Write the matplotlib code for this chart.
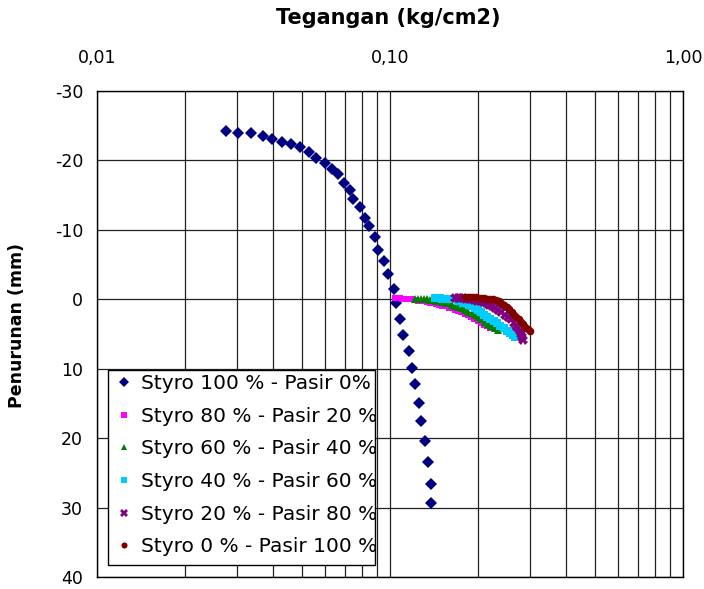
import numpy as np
import matplotlib
matplotlib.use('Agg')
import matplotlib.pyplot as plt
from matplotlib.patches import Rectangle
from matplotlib.transforms import Bbox, TransformedBbox
from matplotlib.ticker import FixedLocator, FixedFormatter, NullFormatter

plt.rcParams['font.family'] = ['DejaVu Sans']
plt.rcParams['axes.unicode_minus'] = False

# Styro 100 % - Pasir 0%
s100_x = [0.0275, 0.0304, 0.0335, 0.0368, 0.0397, 0.0427, 0.0459, 0.0494, 0.0530, 0.0559,
          0.0600, 0.0632, 0.0663, 0.0697, 0.0732, 0.0749, 0.0788, 0.0824, 0.0848, 0.0887,
          0.0912, 0.0954, 0.0984, 0.1029, 0.1048, 0.1082, 0.1105, 0.1164, 0.1188, 0.1220,
          0.1253, 0.1279, 0.1313, 0.1348, 0.1377, 0.1377]
s100_y = [-24.3, -23.9, -23.9, -23.5, -23.1, -22.7, -22.4, -22.0, -21.2, -20.3,
          -19.6, -18.8, -18.0, -16.8, -15.7, -14.5, -13.3, -11.7, -10.5, -9.0,
          -7.1, -5.5, -3.6, -1.5, 0.5, 2.8, 5.1, 7.4, 9.9, 12.2,
          14.9, 17.6, 20.4, 23.5, 26.6, 29.3]

# Styro 80 % - Pasir 20 %
s80_x = [0.104, 0.106, 0.108, 0.110, 0.112, 0.114, 0.117, 0.119, 0.122, 0.125, 0.128,
         0.131, 0.134, 0.137, 0.140, 0.144, 0.147, 0.151, 0.155, 0.159, 0.163, 0.167,
         0.171, 0.175, 0.180, 0.184, 0.189, 0.194, 0.199, 0.204, 0.209, 0.214, 0.219]
s80_y = [-0.2, -0.2, -0.2, -0.1, -0.1, -0.1, 0.0, 0.0, 0.1, 0.2, 0.2,
         0.3, 0.4, 0.5, 0.6, 0.7, 0.8, 0.9, 1.0, 1.2, 1.3, 1.5,
         1.7, 1.9, 2.1, 2.3, 2.6, 2.8, 3.1, 3.4, 3.7, 3.9, 4.2]

# Styro 60 % - Pasir 40 %
s60_x = [0.122, 0.125, 0.128, 0.131, 0.134, 0.137, 0.140, 0.144, 0.147, 0.151, 0.155,
         0.159, 0.163, 0.167, 0.171, 0.176, 0.180, 0.185, 0.190, 0.195, 0.200, 0.205,
         0.211, 0.216, 0.222, 0.228, 0.233]
s60_y = [-0.1, -0.1, -0.1, 0.0, 0.0, 0.1, 0.1, 0.2, 0.3, 0.4, 0.5,
         0.6, 0.8, 0.9, 1.1, 1.3, 1.5, 1.8, 2.0, 2.3, 2.6, 2.9,
         3.2, 3.5, 3.8, 4.1, 4.4]

# Styro 40 % - Pasir 60 %
s40_x = [0.142, 0.145, 0.148, 0.151, 0.155, 0.158, 0.162, 0.166, 0.170, 0.174, 0.178,
         0.182, 0.186, 0.190, 0.195, 0.200, 0.205, 0.210, 0.215, 0.220, 0.226, 0.232,
         0.238, 0.244, 0.250, 0.256, 0.262, 0.267]
s40_y = [-0.2, -0.2, -0.2, -0.1, -0.1, -0.1, 0.0, 0.0, 0.2, 0.3, 0.5,
         0.6, 0.8, 1.0, 1.3, 1.6, 1.9, 2.2, 2.5, 2.8, 3.1, 3.4,
         3.8, 4.1, 4.5, 4.8, 5.1, 5.4]

# Styro 20 % - Pasir 80 %
s20_x = [0.167, 0.170, 0.174, 0.178, 0.182, 0.186, 0.190, 0.194, 0.198, 0.203, 0.208,
         0.213, 0.218, 0.223, 0.228, 0.234, 0.240, 0.246, 0.252, 0.258, 0.264, 0.269,
         0.274, 0.278, 0.281, 0.283, 0.284]
s20_y = [-0.2, -0.2, -0.2, -0.2, -0.1, -0.1, 0.0, 0.1, 0.2, 0.3, 0.4,
         0.6, 0.8, 1.0, 1.2, 1.5, 1.8, 2.2, 2.5, 2.9, 3.4, 3.8,
         4.2, 4.6, 5.0, 5.4, 5.8]

# Styro 0 % - Pasir 100 %
s0_x = [0.180, 0.184, 0.188, 0.192, 0.196, 0.200, 0.205, 0.210, 0.215, 0.220, 0.225,
        0.230, 0.235, 0.240, 0.245, 0.250, 0.255, 0.260, 0.265, 0.270, 0.275, 0.280,
        0.285, 0.290, 0.295, 0.300]
s0_y = [-0.3, -0.3, -0.3, -0.3, -0.3, -0.2, -0.2, -0.2, -0.1, -0.1, 0.0,
        0.1, 0.3, 0.5, 0.8, 1.1, 1.4, 1.8, 2.2, 2.5, 2.9, 3.3,
        3.6, 4.0, 4.3, 4.6]

x_ticks = [0.01, 0.1, 1.0]
x_ticklabels = ['0,01', '0,10', '1,00']
y_ticks = [-30, -20, -10, 0, 10, 20, 30, 40]

fig = plt.figure(figsize=(7.04, 5.89), dpi=100)
ax = fig.add_axes([97/704, 1-577/589, (683-97)/704, (577-91)/589])

series = [
    (s100_x, s100_y, 'Styro 100 % - Pasir 0%', '#000080', 'D', 6.5),
    (s80_x, s80_y, 'Styro 80 % - Pasir 20 %', '#FF00FF', 's', 5),
    (s60_x, s60_y, 'Styro 60 % - Pasir 40 %', '#008000', '^', 6),
    (s40_x, s40_y, 'Styro 40 % - Pasir 60 %', '#00CCFF', 's', 5.5),
    (s20_x, s20_y, 'Styro 20 % - Pasir 80 %', '#800080', 'X', 6.5),
    (s0_x, s0_y, 'Styro 0 % - Pasir 100 %', '#800000', 'o', 5.5),
]
for xs, ys, lab, col, mk, ms in series:
    ax.plot(xs, ys, linestyle='none', marker=mk, color=col, markersize=ms,
            markeredgewidth=0, label=lab)

ax.set_xscale('log')
ax.set_xlim(0.01, 1.0)
ax.set_ylim(40, -30)
ax.xaxis.tick_top()
ax.xaxis.set_major_locator(FixedLocator(x_ticks))
ax.xaxis.set_major_formatter(FixedFormatter(x_ticklabels))
ax.xaxis.set_minor_formatter(NullFormatter())
ax.set_yticks(y_ticks)
ax.tick_params(axis='x', which='both', length=0, pad=17, labelsize=12.5)
ax.tick_params(axis='y', length=0, pad=10, labelsize=12.5)
ax.grid(which='both', axis='x', color='#222222', linewidth=0.9)
ax.grid(which='major', axis='y', color='#222222', linewidth=0.9)
ax.set_axisbelow(True)
for sp in ax.spines.values():
    sp.set_color('black')
    sp.set_linewidth(1)

fig.text(388.5/704, 1-18/589, 'Tegangan (kg/cm2)', ha='center', va='center',
         fontsize=15, fontweight='bold')
fig.text(17/704, 1-325/589, 'Penurunan (mm)', ha='center', va='center',
         rotation=90, fontsize=12.5, fontweight='bold')

# legend box is narrower than its text, as in the original
box_l, box_r, box_t, box_b = 108/704, 375/704, 1-370/589, 1-565/589
fig.add_artist(Rectangle((box_l, box_b), box_r-box_l, box_t-box_b, transform=fig.transFigure,
                         facecolor='white', edgecolor='black', linewidth=1, zorder=4))
handles, labels = ax.get_legend_handles_labels()
leg = fig.legend(handles, labels, loc='upper left', bbox_to_anchor=(box_l, box_t),
                 bbox_transform=fig.transFigure, frameon=False, fontsize=14.5,
                 borderpad=0.2, borderaxespad=0, handlelength=1.2, handletextpad=0.25,
                 labelspacing=0.68, numpoints=1, markerscale=0.8)
leg.set_zorder(5)
clip = TransformedBbox(Bbox.from_extents(0, 0, box_r, 1), fig.transFigure)
for t in leg.get_texts():
    t.set_clip_box(clip)
    t.set_clip_on(True)

plt.savefig('out.png', dpi=100)
